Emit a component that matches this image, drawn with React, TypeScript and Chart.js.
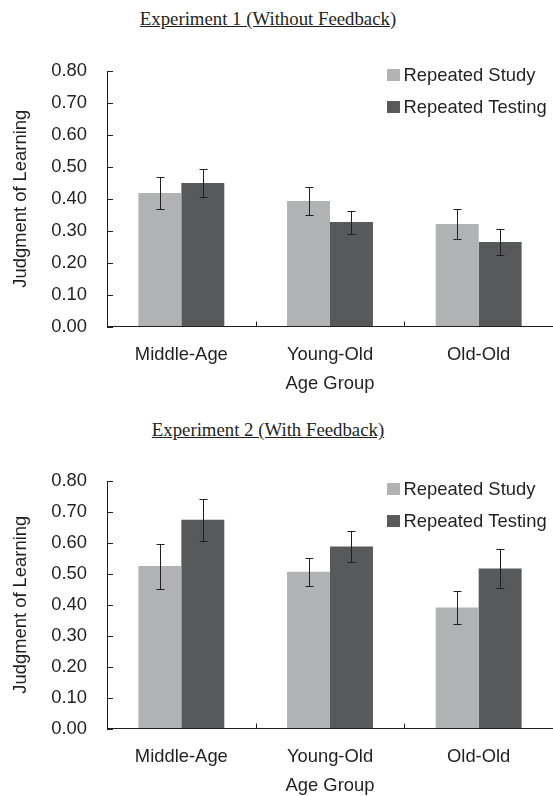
import React, { useEffect, useRef } from 'react';
import { Chart, registerables } from 'chart.js';

Chart.register(...registerables);

const categories = ['Middle-Age', 'Young-Old', 'Old-Old'];
const seriesNames = ['Repeated Study', 'Repeated Testing'];
const seriesColors = ['#b1b2b4', '#58595b'];

const exp1Study = [0.418, 0.393, 0.321];
const exp1StudyErr = [0.049, 0.044, 0.046];
const exp1Testing = [0.449, 0.327, 0.265];
const exp1TestingErr = [0.044, 0.036, 0.041];

const exp2Study = [0.525, 0.507, 0.391];
const exp2StudyErr = [0.073, 0.045, 0.052];
const exp2Testing = [0.675, 0.588, 0.517];
const exp2TestingErr = [0.068, 0.049, 0.063];

const yMin = 0;
const yMax = 0.8;
const yStep = 0.1;

const titles = ['Experiment 1 (Without Feedback)', 'Experiment 2 (With Feedback)'];
const xTitle = 'Age Group';
const yTitle = 'Judgment of Learning';

const SANS = '"Liberation Sans", Arial, sans-serif';
const FS = 18.4;
const TEXT = '#231f20';
const AXIS = '#231f20';

const decorPlugin = {
  id: 'decor',
  afterDatasetsDraw(chart: any, _args: any, opts: any) {
    const ctx = chart.ctx;
    const { left, right, top, bottom } = chart.chartArea;
    const xs = chart.scales.x;
    const ys = chart.scales.y;
    ctx.save();
    // error bars
    ctx.strokeStyle = AXIS;
    ctx.lineWidth = 1;
    chart.data.datasets.forEach((ds: any, i: number) => {
      const meta = chart.getDatasetMeta(i);
      meta.data.forEach((el: any, j: number) => {
        const v = ds.data[j];
        const e = ds.errors[j];
        const x = Math.round(el.x) + 0.5;
        const y1 = Math.round(ys.getPixelForValue(v + e)) + 0.5;
        const y2 = Math.round(ys.getPixelForValue(v - e)) + 0.5;
        ctx.beginPath();
        ctx.moveTo(x, y1);
        ctx.lineTo(x, y2);
        ctx.moveTo(x - 4, y1);
        ctx.lineTo(x + 4, y1);
        ctx.moveTo(x - 4, y2);
        ctx.lineTo(x + 4, y2);
        ctx.stroke();
      });
    });
    // inner ticks on y axis
    ctx.strokeStyle = AXIS;
    ys.ticks.forEach((t: any) => {
      const y = Math.round(ys.getPixelForValue(t.value)) + 0.5;
      ctx.beginPath();
      ctx.moveTo(left, y);
      ctx.lineTo(left + 6, y);
      ctx.stroke();
    });
    // inner ticks on x axis at category boundaries
    const n = chart.data.labels.length;
    for (let j = 0; j < n; j++) {
      const c = xs.getPixelForValue(j);
      const half = (right - left) / n / 2;
      const bx = Math.round(c + half) + 0.5;
      ctx.beginPath();
      ctx.moveTo(bx, bottom);
      ctx.lineTo(bx, bottom - 5);
      ctx.stroke();
    }
    // legend
    ctx.font = FS + 'px ' + SANS;
    ctx.textBaseline = 'middle';
    ctx.textAlign = 'left';
    chart.data.datasets.forEach((ds: any, i: number) => {
      const cy = top + opts.legendTop + i * opts.legendGap;
      const sx = right - 166;
      ctx.fillStyle = ds.backgroundColor;
      ctx.fillRect(sx, cy - 6, 13, 12);
      ctx.fillStyle = TEXT;
      ctx.fillText(ds.label, right - 149.5, cy + 1);
    });
    ctx.restore();
  },
};

function BarChart(props: {
  study: number[];
  studyErr: number[];
  testing: number[];
  testingErr: number[];
  height: number;
  padTop: number;
  xAxisHeight: number;
  xTitlePad: number;
  legendTop: number;
  legendGap: number;
}) {
  const ref = useRef<HTMLCanvasElement | null>(null);
  useEffect(() => {
    if (!ref.current) return;
    const chart = new Chart(ref.current, {
      type: 'bar',
      data: {
        labels: categories,
        datasets: [
          {
            label: seriesNames[0],
            data: props.study,
            errors: props.studyErr,
            backgroundColor: seriesColors[0],
            borderWidth: 0,
            barPercentage: 1,
            categoryPercentage: 0.578,
          } as any,
          {
            label: seriesNames[1],
            data: props.testing,
            errors: props.testingErr,
            backgroundColor: seriesColors[1],
            borderWidth: 0,
            barPercentage: 1,
            categoryPercentage: 0.578,
          } as any,
        ],
      },
      options: {
        responsive: false,
        animation: false,
        devicePixelRatio: 1,
        layout: { padding: { left: 0, right: 0, top: props.padTop, bottom: 0 } },
        plugins: {
          legend: { display: false },
          tooltip: { enabled: false },
          title: { display: false },
          decor: { legendTop: props.legendTop, legendGap: props.legendGap },
        } as any,
        scales: {
          x: {
            grid: { display: true, drawOnChartArea: false, drawTicks: false, offset: true },
            border: { display: true, color: AXIS, width: 1 },
            ticks: {
              color: TEXT,
              font: { family: SANS, size: FS },
              padding: 17.5,
              maxRotation: 0,
              autoSkip: false,
            },
            title: {
              display: true,
              text: xTitle,
              color: TEXT,
              font: { family: SANS, size: FS, lineHeight: 1 },
              padding: { top: 0, bottom: props.xTitlePad },
            },
            afterFit: (s: any) => {
              s.height = props.xAxisHeight;
            },
          },
          y: {
            min: yMin,
            max: yMax,
            grid: { display: true, drawOnChartArea: false, drawTicks: false },
            border: { display: true, color: AXIS, width: 1 },
            ticks: {
              stepSize: yStep,
              color: TEXT,
              font: { family: SANS, size: FS },
              padding: 20,
              callback: (v: any) => Number(v).toFixed(2),
            },
            title: {
              display: true,
              text: yTitle,
              color: TEXT,
              font: { family: SANS, size: FS, lineHeight: 1 },
              padding: { top: 11.5, bottom: 0 },
            },
            afterFit: (s: any) => {
              s.width = 107;
            },
          },
        },
      },
      plugins: [decorPlugin],
    });
    return () => chart.destroy();
  }, []);
  return <canvas ref={ref} width={553} height={props.height} style={{ display: 'block', width: 553, height: props.height }} />;
}

const titleStyle = (top: number): React.CSSProperties => ({
  position: 'absolute',
  left: 268,
  top,
  transform: 'translateX(-50%)',
  fontFamily: '"Liberation Serif", "Times New Roman", serif',
  fontSize: 18.8,
  lineHeight: '18.8px',
  color: TEXT,
  textDecoration: 'underline',
  whiteSpace: 'nowrap',
});

export default function App() {
  return (
    <div style={{ position: 'absolute', left: 0, top: 0, width: 553, height: 796, background: '#fff', overflow: 'hidden' }}>
      <div style={titleStyle(10)}>{titles[0]}</div>
      <div style={{ position: 'absolute', left: 0, top: 40 }}>
        <BarChart
          study={exp1Study}
          studyErr={exp1StudyErr}
          testing={exp1Testing}
          testingErr={exp1TestingErr}
          height={360}
          padTop={30}
          xAxisHeight={73.5}
          xTitlePad={7}
          legendTop={4}
          legendGap={32}
        />
      </div>
      <div style={titleStyle(421.3)}>{titles[1]}</div>
      <div style={{ position: 'absolute', left: 0, top: 450 }}>
        <BarChart
          study={exp2Study}
          studyErr={exp2StudyErr}
          testing={exp2Testing}
          testingErr={exp2TestingErr}
          height={346}
          padTop={31}
          xAxisHeight={67.5}
          xTitlePad={1}
          legendTop={8}
          legendGap={32}
        />
      </div>
    </div>
  );
}
